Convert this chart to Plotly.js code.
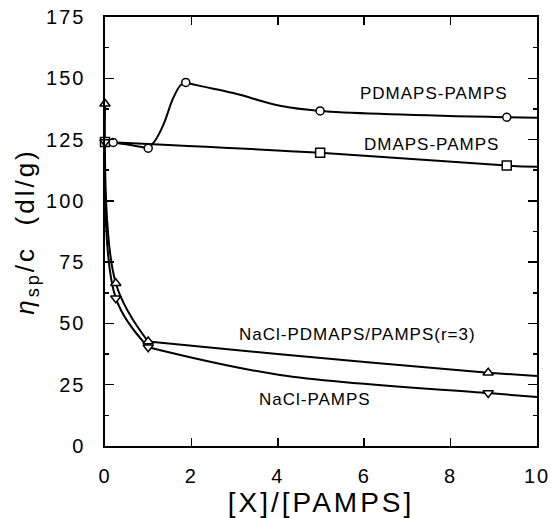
<!DOCTYPE html>
<html>
<head>
<meta charset="utf-8">
<script src="https://cdn.plot.ly/plotly-3.0.1.min.js"></script>
<style>
  html, body { margin: 0; padding: 0; background: #fff; }
  #chart { width: 551px; height: 518px; }
  .xtitle, .ytitle { letter-spacing: 3px; }
  .xtick text, .ytick text { letter-spacing: 2px; }
  .annotation-text { letter-spacing: 1px; }
</style>
</head>
<body>
<div id="chart"></div>
<script>
// ---- measured points (markers) ----
const pdmapsX = [0.19, 1.0, 1.87, 4.98, 9.3];
const pdmapsY = [123.8, 121.5, 148.3, 136.7, 134.1];
const dmapsX = [0, 4.98, 9.3];
const dmapsY = [124.0, 119.6, 114.4];
const naclPdX = [0, 0.25, 1.0, 8.87];
const naclPdY = [139.6, 66.4, 42.6, 29.9];
const naclX = [0, 0.25, 1.0, 8.87];
const naclY = [124.0, 60.3, 40.3, 21.6];

// ---- drawn curves (null = corner / new segment) ----
const pdmapsCurveX = [0, 0.19, 1.0, null, 1.0, 1.15, 1.35, 1.58, 1.75, 1.87, null, 1.87, 2.2, 2.97, 4.05, 4.98, 9.3, 10];
const pdmapsCurveY = [124.0, 123.8, 121.5, null, 121.5, 124.3, 131.0, 142.0, 147.2, 148.3, null, 148.3, 146.9, 144.0, 138.8, 136.7, 134.1, 133.9];
const dmapsCurveX = [0, 4.98, 9.3, 10];
const dmapsCurveY = [124.0, 119.6, 114.4, 113.9];
const naclPdCurveX = [0, 0.25, 1.0, null, 1.0, 4.05, 8.87, 10];
const naclPdCurveY = [139.6, 66.4, 42.6, null, 42.6, 37.4, 29.9, 28.6];
const naclCurveX = [0, 0.25, 1.0, null, 1.0, 4.05, 8.87, 10];
const naclCurveY = [124.0, 60.3, 40.3, null, 40.3, 29.0, 21.6, 20.0];

// ---- labels ----
const seriesLabels = ['PDMAPS-PAMPS', 'DMAPS-PAMPS', 'NaCl-PDMAPS/PAMPS(r=3)', 'NaCl-PAMPS'];
const labelX = [7.62, 7.55, 5.84, 4.86];
const labelY = [143.9, 123.0, 45.3, 18.8];
const xTitle = '[X]/[PAMPS]';
const yTitle = '<i>η</i><sub>sp</sub>/c  (dl/g)';

const lineStyle = {color: 'black', width: 2, shape: 'spline'};
function curve(x, y) {
  return {x: x, y: y, type: 'scatter', mode: 'lines', line: lineStyle,
          connectgaps: false, cliponaxis: false, hoverinfo: 'skip'};
}
function pts(x, y, symbol, size) {
  return {x: x, y: y, type: 'scatter', mode: 'markers', cliponaxis: false,
          marker: {symbol: symbol, size: size, color: 'white',
                   line: {color: 'black', width: 1.5}}};
}

const data = [
  curve(pdmapsCurveX, pdmapsCurveY),
  curve(dmapsCurveX, dmapsCurveY),
  curve(naclPdCurveX, naclPdCurveY),
  curve(naclCurveX, naclCurveY),
  pts(dmapsX, dmapsY, 'square', 9),
  pts(naclX, naclY, 'triangle-down', 9),
  pts(naclPdX, naclPdY, 'triangle-up', 9),
  pts(pdmapsX, pdmapsY, 'circle', 8)
];

const annotations = seriesLabels.map((t, i) => ({
  x: labelX[i], y: labelY[i], xref: 'x', yref: 'y', text: t, showarrow: false,
  xanchor: 'center', yanchor: 'middle', font: {size: 17, color: 'black'}
}));

const layout = {
  width: 551, height: 518,
  margin: {l: 105, r: 14, t: 17, b: 72},
  paper_bgcolor: 'white', plot_bgcolor: 'white',
  showlegend: false,
  font: {family: '"Liberation Sans", Arial, sans-serif', color: 'black'},
  xaxis: {
    range: [0, 10], tick0: 0, dtick: 2, ticks: 'inside', ticklen: 8, tickwidth: 1.5,
    tickcolor: 'black', mirror: 'ticks', showline: true, linewidth: 1.6, linecolor: 'black',
    showgrid: false, zeroline: false, tickfont: {size: 20}, ticklabelstandoff: 11,
    automargin: false,
    title: {text: xTitle, font: {size: 28}, standoff: 4}
  },
  yaxis: {
    range: [0, 175], tick0: 0, dtick: 25, ticks: 'inside', ticklen: 9, tickwidth: 1.5,
    tickcolor: 'black', mirror: 'ticks', showline: true, linewidth: 1.6, linecolor: 'black',
    showgrid: false, zeroline: false, tickfont: {size: 20}, ticklabelstandoff: 14,
    automargin: false,
    minor: {dtick: 12.5, tick0: 0, ticks: 'inside', ticklen: 4, tickwidth: 1.5, tickcolor: 'black', showgrid: false},
    title: {text: yTitle, font: {size: 26}, standoff: 4}
  },
  annotations: annotations
};

Plotly.newPlot('chart', data, layout, {staticPlot: true, displayModeBar: false});
</script>
</body>
</html>
